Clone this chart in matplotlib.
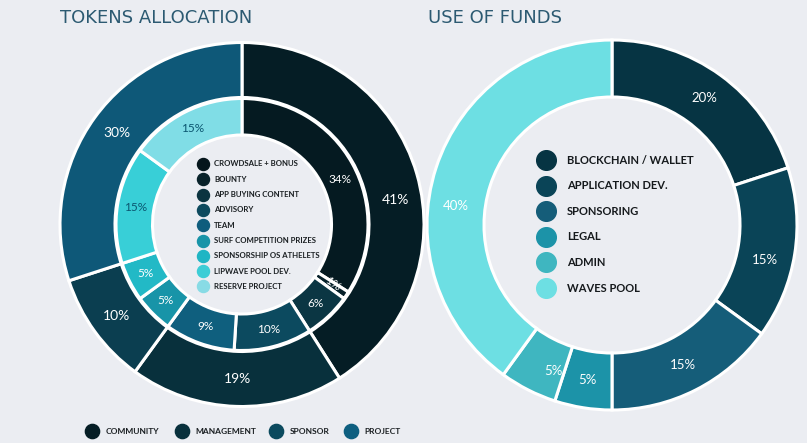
import numpy as np
import matplotlib.pyplot as plt

# ─── data ───
outer_labels = ["COMMUNITY", "MANAGEMENT", "SPONSOR", "PROJECT"]
outer_vals = [41, 19, 10, 30]
outer_colors = ["#051d25", "#08303c", "#0b3e50", "#0e5878"]

inner_labels = ["CROWDSALE + BONUS", "BOUNTY", "APP BUYING CONTENT", "ADVISORY", "TEAM",
                "SURF COMPETITION PRIZES", "SPONSORSHIP OS ATHELETS", "LIPWAVE POOL DEV.",
                "RESERVE PROJECT"]
inner_vals = [34, 1, 6, 10, 9, 5, 5, 15, 15]
inner_colors = ["#051a21", "#07212a", "#0b3643", "#0c4a5f", "#0f5f7e", "#1894a8",
                "#22b9c6", "#38cfd7", "#80dde6"]
inner_legend_colors = ["#05161c", "#08222a", "#0b3440", "#0d4a5e", "#0f5d7d", "#1794a8",
                       "#1fb5c4", "#3ccdd6", "#88dbe5"]
inner_text_colors = ["white"] * 7 + ["#0b5670", "#0b5670"]

funds_labels = ["BLOCKCHAIN / WALLET", "APPLICATION DEV.", "SPONSORING", "LEGAL", "ADMIN", "WAVES POOL"]
funds_vals = [20, 15, 15, 5, 5, 40]
funds_colors = ["#063443", "#0a4457", "#155d79", "#1c93a8", "#3fb6c0", "#6ddfe3"]

# small angle tweaks (deg) for label placement, as in the original artwork
outer_nudge = [-7, 0, 0, 0]
inner_nudge = [-4, 1, 0, 0, 0, 0, 0, 0, 0]
funds_nudge = [0, -4, 0, 0, 5, 11]

bg = "#ebedf2"
W, H = 807, 443

fig = plt.figure(figsize=(W / 100, H / 100), dpi=100, facecolor=bg)

# overlay axes in pixel coords for titles / legends
base = fig.add_axes([0, 0, 1, 1])
base.set_xlim(0, W)
base.set_ylim(H, 0)
base.axis("off")
base.set_facecolor(bg)


def pie_axes(cx, cy, half=200):
    ax = fig.add_axes([(cx - half) / W, (H - cy - half) / H, 2 * half / W, 2 * half / H])
    ax.set_xlim(-half, half)
    ax.set_ylim(-half, half)
    ax.axis("off")
    return ax


def put_labels(ax, vals, r, colors, size, nudge, rots=None):
    start = 90.0
    total = float(sum(vals))
    for i, (v, c) in enumerate(zip(vals, colors)):
        mid = start - 360 * v / total / 2 + nudge[i]
        start -= 360 * v / total
        a = np.deg2rad(mid)
        rot = 0 if rots is None else rots[i]
        ax.text(r * np.cos(a), r * np.sin(a), f"{v}%", ha="center", va="center",
                color=c, fontsize=size, family="Lato", rotation=rot, zorder=10)


wp = dict(edgecolor="white", linewidth=2.2)

# ─── left: tokens allocation ───
axl = pie_axes(242, 224.5)
axl.pie(outer_vals, colors=outer_colors, radius=182, startangle=90, counterclock=False,
        wedgeprops=dict(width=55, **wp))
axl.pie(inner_vals, colors=inner_colors, radius=126, startangle=90, counterclock=False,
        wedgeprops=dict(width=36.5, **wp))
axl.set_xlim(-200, 200)
axl.set_ylim(-200, 200)
put_labels(axl, outer_vals, 155, ["white"] * 4, 10, outer_nudge)
put_labels(axl, inner_vals, 108, inner_text_colors, 8.5, inner_nudge,
           rots=[0, -35, 0, 0, 0, 0, 0, 0, 0])

# ─── right: use of funds ───
axr = pie_axes(612, 225)
axr.pie(funds_vals, colors=funds_colors, radius=185, startangle=90, counterclock=False,
        wedgeprops=dict(width=57, **wp))
axr.set_xlim(-200, 200)
axr.set_ylim(-200, 200)
put_labels(axr, funds_vals, 157, ["white"] * 6, 9.5, funds_nudge)

# titles
tfam = ["DejaVu Sans"]
base.text(60, 18, "TOKENS ALLOCATION", fontsize=13, color="#2c5a72", va="center", family=tfam)
base.text(428, 18, "USE OF FUNDS", fontsize=13, color="#2c5a72", va="center", family=tfam)

# inner legend (left)
for i, (lab, c) in enumerate(zip(inner_labels, inner_legend_colors)):
    y = 164 + i * 15.3
    base.scatter(203, y, s=75, color=c, zorder=5)
    base.text(214, y, lab, fontsize=5.6, fontweight="bold", color="#1a1f22",
              va="center", family=["Lato", "DejaVu Sans"])

# right legend
for i, (lab, c) in enumerate(zip(funds_labels, funds_colors)):
    y = 160 + i * 25.6
    base.scatter(546, y, s=200, color=c, zorder=5)
    base.text(567, y, lab, fontsize=8, fontweight="bold", color="#15191c",
              va="center", family=["Lato", "DejaVu Sans"])

# bottom legend
for x, lab, c in zip([92, 182, 276, 351], outer_labels, ["#051d25", "#08303c", "#0b4a5e", "#0e5f80"]):
    base.scatter(x, 431, s=105, color=c, zorder=5)
    base.text(x + 13.5, 431, lab, fontsize=6, fontweight="bold", color="#1a1f22",
              va="center", family=["Lato", "DejaVu Sans"])

fig.savefig("out.png", dpi=100, facecolor=bg)
